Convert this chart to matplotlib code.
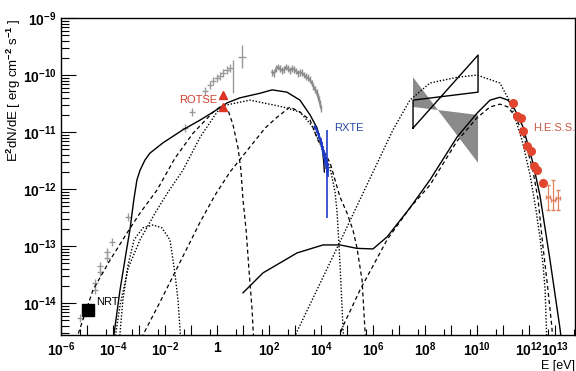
import numpy as np
import matplotlib
matplotlib.use("Agg")
import matplotlib.pyplot as plt
from matplotlib.ticker import FixedLocator, FixedFormatter, LogLocator, NullFormatter

plt.rcParams['font.family'] = ['Liberation Sans', 'DejaVu Sans']
plt.rcParams['font.weight'] = 'bold'
plt.rcParams['mathtext.fontset'] = 'custom'
plt.rcParams['mathtext.rm'] = 'Liberation Sans:bold'
plt.rcParams['mathtext.it'] = 'Liberation Sans:bold'
plt.rcParams['mathtext.bf'] = 'Liberation Sans:bold'

# all values are log10(E / eV) and log10(E^2 dN/dE / erg cm-2 s-1)

# model curves
sync_total_x = [-4.02, -3.73, -3.48, -3.35, -3.20, -3.08, -2.96, -2.77, -2.58, -2.08, -1.31, -0.65,
                -0.15, 0.38, 0.88, 1.65, 2.12, 2.69, 3.19, 3.58, 3.85, 4.04, 4.10, 4.13]
sync_total_y = [-14.74, -13.77, -13.07, -12.72, -12.19, -11.84, -11.67, -11.49, -11.37, -11.19, -10.96, -10.79,
                -10.65, -10.49, -10.40, -10.32, -10.26, -10.30, -10.44, -10.70, -10.93, -11.26, -11.49, -11.70]

total_lo_x = [1.0, 1.77, 3.08, 4.08, 4.73, 5.38, 6.0, 6.54, 7.42, 8.19, 9.23, 10.0, 10.5, 10.88,
              11.19, 11.46, 11.77, 12.15, 12.42, 12.81, 13.19, 13.27]
total_lo_y = [-13.82, -13.47, -13.12, -12.98, -12.98, -13.04, -13.05, -12.84, -12.33, -11.84, -11.09, -10.67,
              -10.44, -10.39, -10.44, -10.61, -10.91, -11.54, -12.11, -13.25, -14.44, -14.74]

sync_a_x = [-5.42, -4.77, -4.12, -3.46, -2.96, -2.31, -1.62, -0.92, -0.15, 0.12, 0.42, 0.62, 0.81, 0.92,
            1.00, 1.12, 1.23, 1.35, 1.42]
sync_a_y = [-14.65, -13.77, -13.25, -12.77, -12.42, -12.02, -11.46, -11.02, -10.65, -10.56, -10.61, -10.88,
            -11.28, -11.67, -12.19, -12.72, -13.42, -14.12, -14.74]

sync_b_x = [-2.92, -2.85, -2.19, -1.42, -0.65, -0.08, 0.50, 1.27, 1.85, 2.31, 2.81, 3.19, 3.58, 3.88, 4.35,
            4.73, 5.00, 5.23, 5.38, 5.58, 5.69, 5.73]
sync_b_y = [-14.74, -14.56, -13.98, -13.28, -12.58, -12.11, -11.70, -11.26, -10.93, -10.74, -10.56, -10.65,
            -10.79, -11.14, -11.54, -12.14, -12.42, -12.72, -13.02, -13.60, -14.47, -14.74]

sync_c_x = [-3.96, -3.73, -3.42, -2.96, -2.38, -1.88, -1.31, -0.65, 0.0, 0.31, 1.27, 2.54, 3.19, 3.65,
            4.04, 4.35, 4.54, 4.62, 4.73, 4.85, 4.88]
sync_c_y = [-14.74, -14.04, -13.39, -12.89, -12.42, -12.05, -11.67, -11.09, -10.65, -10.53, -10.44, -10.56,
            -10.65, -10.89, -11.28, -11.63, -12.05, -12.42, -13.30, -14.47, -14.74]

bump_x = [-3.77, -3.62, -3.42, -3.19, -2.85, -2.46, -2.12, -1.81, -1.62, -1.50, -1.42, -1.38]
bump_y = [-14.74, -13.95, -13.33, -12.89, -12.68, -12.63, -12.68, -12.89, -13.47, -13.95, -14.47, -14.74]

ic_c_x = [2.92, 4.85, 6.77, 7.42, 8.19, 9.23, 10.0, 10.88, 11.27, 11.46, 11.73, 12.04, 12.27, 12.42,
          12.54, 12.62, 12.69]
ic_c_y = [-14.65, -12.81, -10.96, -10.44, -10.14, -10.04, -10.0, -10.14, -10.47, -10.75, -11.14, -11.75,
          -12.37, -12.84, -13.33, -13.77, -14.74]

ic_b_x = [4.65, 4.81, 5.50, 6.54, 7.42, 8.19, 9.23, 10.0, 10.5, 10.88, 11.19, 11.46, 11.77, 12.15, 12.35,
          12.54, 12.73, 12.88, 12.92]
ic_b_y = [-14.74, -14.44, -13.77, -12.89, -12.33, -11.93, -11.16, -10.75, -10.56, -10.51, -10.56, -10.72,
          -11.02, -11.67, -12.19, -13.02, -13.77, -14.42, -14.74]

# gamma-ray bowties
bow_e = [7.54, 10.04]
egret_edge1 = [-10.93, -9.65]
egret_edge2 = [-10.44, -10.30]
grey_edge1 = [-10.04, -11.54]
grey_edge2 = [-10.56, -10.70]

# archival data (grey crosses)
radio_x = [-5.27, -5.0, -4.69, -4.69, -4.5, -4.5, -4.23, -4.23, -4.04, -3.42]
radio_y = [-14.26, -14.09, -13.77, -13.65, -13.46, -13.35, -13.21, -13.11, -12.93, -12.49]
opt_x = [-1.23, -0.96, -0.46, -0.27, -0.15, 0.0, 0.12, 0.23, 0.38, 0.50, 0.62, 0.96]
opt_y = [-10.93, -10.65, -10.28, -10.18, -10.11, -10.05, -10.02, -9.96, -9.91, -9.88, -10.0, -9.68]
opt_up = [0.07] * 10 + [0.26, 0.21]
opt_dn = [0.07] * 10 + [0.32, 0.20]
opt_xe = [0.13] * 10 + [0.0, 0.14]

sax_x = [2.12, 2.20, 2.27, 2.35, 2.42, 2.50, 2.58, 2.65, 2.73, 2.80, 2.88, 2.96, 3.04, 3.11, 3.19, 3.27,
         3.35, 3.42, 3.50, 3.57, 3.65, 3.71, 3.77, 3.83, 3.88, 3.92, 3.96, 4.0]
sax_y = [-9.95, -9.97, -9.89, -9.86, -9.89, -9.92, -9.91, -9.86, -9.89, -9.92, -9.89, -9.90, -9.93, -9.97,
         -9.95, -9.96, -10.0, -10.03, -10.05, -10.08, -10.14, -10.20, -10.25, -10.30, -10.37, -10.43, -10.49, -10.58]

rxte_x = [3.77, 3.85, 3.92, 4.00, 4.04, 4.08, 4.12, 4.15, 4.19, 4.23, 4.27]
rxte_y = [-10.91, -10.98, -11.07, -11.16, -11.25, -11.32, -11.40, -11.47, -11.54, -11.61, -11.67]
rxte_err = [0.03, 0.04, 0.05, 0.06, 0.07, 0.08, 0.08, 0.10, 0.10, 0.12, 0.12]
rxte_last_x, rxte_last_y, rxte_last_up, rxte_last_dn = 4.23, -11.49, 0.53, 1.02

hess_x = [11.38, 11.54, 11.69, 11.77, 11.92, 12.08, 12.19, 12.31, 12.54]
hess_y = [-10.49, -10.72, -10.75, -10.98, -11.25, -11.33, -11.60, -11.67, -11.89]
hess_hi_x = [12.73, 12.92, 13.12]
hess_hi_y = [-12.14, -12.19, -12.16]
hess_hi_up = [0.21, 0.35, 0.14]
hess_hi_dn = [0.23, 0.18, 0.21]

rotse_x = [0.23, 0.23]
rotse_y = [-10.35, -10.56]
nrt_x = [-4.98]
nrt_y = [-14.13]


def p(a):
    return 10.0 ** np.asarray(a, dtype=float)


def log_err(y, dn, up):
    y = np.asarray(y, dtype=float)
    dn = np.asarray(dn, dtype=float)
    up = np.asarray(up, dtype=float)
    return [p(y) - p(y - dn), p(y + up) - p(y)]


fig = plt.figure(figsize=(5.76, 3.71), dpi=100)
ax = fig.add_axes([0.1059, 0.097, 0.8924, 0.8544])
ax.set_xscale('log')
ax.set_yscale('log')

# grey bowtie (filled)
ax.fill(p([bow_e[0], bow_e[1], bow_e[1], bow_e[0]]),
        p([grey_edge1[0], grey_edge1[1], grey_edge2[1], grey_edge2[0]]),
        color='#8a8a8a', lw=0, zorder=1)

dash = (0, (3.2, 2.4))
dot = (0, (1.0, 1.3))
ax.plot(p(sync_total_x), p(sync_total_y), color='black', lw=1.0, zorder=3)
ax.plot(p(total_lo_x), p(total_lo_y), color='black', lw=1.0, zorder=3)
ax.plot(p(sync_a_x), p(sync_a_y), color='black', lw=0.9, ls=dash, zorder=3)
ax.plot(p(sync_b_x), p(sync_b_y), color='black', lw=0.9, ls=dash, zorder=3)
ax.plot(p(sync_c_x), p(sync_c_y), color='black', lw=1.0, ls=dot, zorder=3)
ax.plot(p(bump_x), p(bump_y), color='black', lw=1.0, ls=dot, zorder=3)
ax.plot(p(ic_c_x), p(ic_c_y), color='black', lw=1.0, ls=dot, zorder=3)
ax.plot(p(ic_b_x), p(ic_b_y), color='black', lw=0.9, ls=dash, zorder=3)

# open bowtie
ax.plot(p([bow_e[0], bow_e[1], bow_e[1], bow_e[0], bow_e[0]]),
        p([egret_edge1[0], egret_edge1[1], egret_edge2[1], egret_edge2[0], egret_edge1[0]]),
        color='black', lw=1.0, zorder=4)

grey = '#9a9a9a'
ax.errorbar(p(radio_x), p(radio_y), xerr=log_err(radio_x, [0.12] * 10, [0.12] * 10),
            yerr=log_err(radio_y, [0.07] * 10, [0.07] * 10),
            fmt='none', ecolor=grey, elinewidth=1.0, capsize=0, zorder=2)
ax.errorbar(p(opt_x), p(opt_y), xerr=log_err(opt_x, opt_xe, opt_xe),
            yerr=log_err(opt_y, opt_dn, opt_up),
            fmt='none', ecolor=grey, elinewidth=1.0, capsize=0, zorder=2)
ax.errorbar(p(sax_x), p(sax_y), yerr=log_err(sax_y, [0.06] * len(sax_y), [0.06] * len(sax_y)),
            color='#8c8c8c', lw=1.4, elinewidth=1.0, capsize=0, zorder=2)

blue = '#1f3cc8'
ax.errorbar(p(rxte_x), p(rxte_y), yerr=log_err(rxte_y, rxte_err, rxte_err),
            color=blue, lw=1.6, elinewidth=1.2, capsize=0, zorder=5)
ax.errorbar(p([rxte_last_x]), p([rxte_last_y]),
            yerr=log_err([rxte_last_y], [rxte_last_dn], [rxte_last_up]),
            fmt='none', ecolor=blue, elinewidth=1.2, capsize=0, zorder=5)

ax.plot(p(hess_x), p(hess_y), 'o', color='#e2452e', ms=5.5, mec='#e2452e', zorder=6)
ax.errorbar(p(hess_hi_x), p(hess_hi_y), xerr=log_err(hess_hi_x, [0.07] * 3, [0.07] * 3),
            yerr=log_err(hess_hi_y, hess_hi_dn, hess_hi_up),
            fmt='none', ecolor='#e0805f', elinewidth=0.9, capsize=1.5, zorder=6)

ax.plot(p(rotse_x), p(rotse_y), '^', color='#dd3322', ms=6, zorder=6)
ax.plot(p(nrt_x), p(nrt_y), 's', color='black', ms=8, zorder=6)

ax.text(p(-0.73), p(-10.44), 'ROTSE', color='#d04030', fontsize=8, fontweight='normal',
        ha='center', va='center')
ax.text(p(4.5), p(-10.93), 'RXTE', color='#2a4aa8', fontsize=8, fontweight='normal',
        ha='left', va='center')
ax.text(p(12.15), p(-10.93), 'H.E.S.S.', color='#c85a48', fontsize=8, fontweight='normal',
        ha='left', va='center')
ax.text(p(-4.65), p(-13.98), 'NRT', color='black', fontsize=8, fontweight='normal',
        ha='left', va='center')

ax.set_xlim(1e-6, p(13.77))
ax.set_ylim(p(-14.56), 1e-9)

x_decades = np.arange(-6, 14)
x_labeled = [-6, -4, -2, 0, 2, 4, 6, 8, 10, 12, 13]
x_labels = []
for k in x_decades:
    if k not in x_labeled:
        x_labels.append('')
    elif k == 0:
        x_labels.append('1')
    else:
        x_labels.append('$10^{%d}$' % k)
ax.xaxis.set_major_locator(FixedLocator(p(x_decades)))
ax.xaxis.set_major_formatter(FixedFormatter(x_labels))
ax.xaxis.set_minor_locator(LogLocator(base=10, subs=(5.5,), numticks=50))
ax.xaxis.set_minor_formatter(NullFormatter())

y_decades = np.arange(-14, -8)
ax.yaxis.set_major_locator(FixedLocator(p(y_decades)))
ax.yaxis.set_major_formatter(FixedFormatter(['$10^{%d}$' % k for k in y_decades]))
ax.yaxis.set_minor_locator(LogLocator(base=10, subs=np.arange(2, 10), numticks=50))
ax.yaxis.set_minor_formatter(NullFormatter())

ax.tick_params(axis='x', which='major', direction='in', length=7, width=0.8, labelsize=10, pad=4,
               top=False)
ax.tick_params(axis='x', which='minor', direction='in', length=4, width=0.8, top=False)
ax.tick_params(axis='y', which='major', direction='in', length=11, width=0.8, labelsize=10, pad=3,
               right=False)
ax.tick_params(axis='y', which='minor', direction='in', length=5.5, width=0.8, right=False)
for s in ax.spines.values():
    s.set_linewidth(1.0)

ax.set_ylabel('E$^{2}$dN/dE [ erg cm$^{-2}$ s$^{-1}$ ]', fontsize=9.5, loc='top')
ax.yaxis.set_label_coords(-0.074, 1.0)
ax.set_xlabel('E [eV]', fontsize=9, loc='right')
ax.xaxis.set_label_coords(1.0, -0.078)

fig.savefig('out.png', dpi=100)
